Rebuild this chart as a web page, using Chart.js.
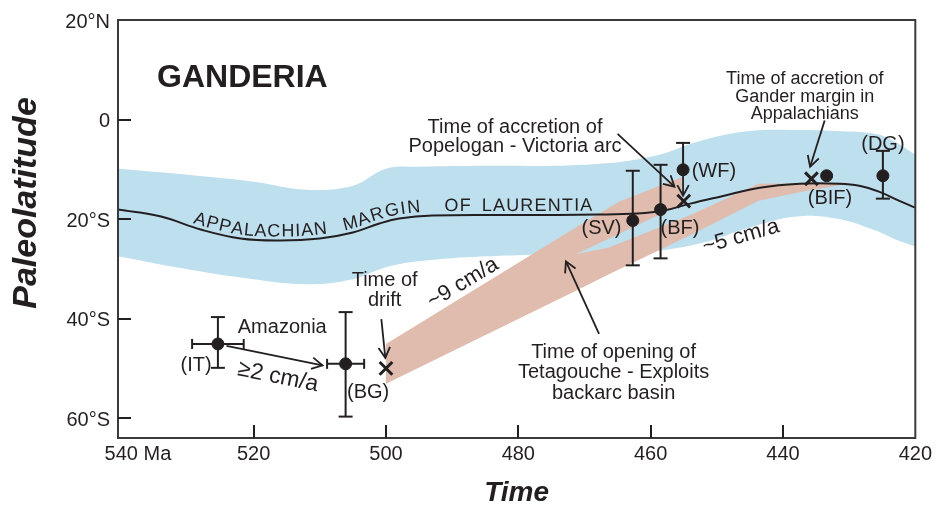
<!DOCTYPE html>
<html>
<head>
<meta charset="utf-8">
<script src="https://cdn.jsdelivr.net/npm/chart.js@4.4.1/dist/chart.umd.min.js"></script>
<style>
  html, body { margin: 0; padding: 0; background: #fff; }
</style>
</head>
<body>
<canvas id="chart" width="936" height="507"></canvas>
<script>
// ── Data (age in Ma, paleolatitude in degrees, south negative) ──
const timeTicks = [540, 520, 500, 480, 460, 440, 420];
const latTicks  = [20, 0, -20, -40, -60];

// blue band: Appalachian margin of Laurentia (uncertainty envelope)
const bandTimes = [540.5, 530, 520, 512, 505, 500, 495, 485, 470, 460, 452, 445, 438, 432, 426, 423, 420];
const bandNorth = [-9.9, -11.1, -12.5, -14.1, -13.3, -9.9, -9.5, -9.3, -9.1, -7.5, -4.1, -2.3, -2.1, -2.3, -2.9, -4.5, -7.1];
const bandSouth = [-27.5, -30.1, -32.1, -33.1, -32.1, -29.7, -28.5, -27.5, -26.9, -26.5, -24.7, -21.7, -19.5, -19.9, -22.3, -24.1, -25.5];

// black curve: Appalachian margin reference path
const marginTimes = [540.5, 534, 528, 522, 516, 510, 505, 501, 498, 493, 480, 468, 462, 458, 454, 449.5, 443.5, 437.5, 431.5, 428.5, 425.5, 422.5, 420];
const marginLat   = [-18.1, -19.5, -22.1, -23.9, -24.3, -23.9, -22.7, -20.9, -19.9, -19.3, -19.2, -19.1, -18.9, -18.3, -16.9, -15.5, -13.7, -12.9, -12.9, -13.3, -14.5, -16.3, -17.7];

// pink bands: Ganderia drift paths
const fastTimes = [500, 472.3, 464.8, 455.3];          // ~9 cm/a
const fastNorth = [-45.1, -22.5, -16.5, -11.6];
const fastSouth = [-53.1, -27.7, -23.0, -17.0];
const slowTimes = [500, 471.6, 466.3, 453.8, 443.7, 436, 430.1];   // ~5 cm/a
const slowNorth = [-45.1, -27.1, -25.7, -19.1, -12.9, -12.8, -12.7];
const slowSouth = [-53.1, -34.6, -31.1, -23.1, -16.3, -14.2, -12.9];

// paleomagnetic sites
const siteNames = ['IT', 'BG', 'SV', 'BF', 'WF', 'BIF', 'DG'];
const siteAge   = [525.4, 506.1, 462.7, 458.5, 455.1, 433.4, 424.9];
const siteLat   = [-45.1, -49.1, -20.3, -18.1, -10.1, -11.3, -11.3];
const errNorth  = [5.4, 10.4, 10.0, 9.0, 5.4, 0, 5.0];
const errSouth  = [4.8, 10.6, 9.0, 9.8, 0, 0, 4.6];
const errAge    = [3.9, 2.8, 0, 0, 0, 0, 0];

// "x" events: time of drift, accretion of Popelogan-Victoria arc, accretion of Gander margin
const eventAge = [500.0, 455.0, 435.7];
const eventLat = [-50.0, -16.4, -11.9];

// text along the black curve
const marginWords = ['APPALACHIAN', 'MARGIN', 'OF', 'LAURENTIA'];
const marginStart = [529.4, 506.3, 491.5, 485.6];

// ── Style ─────────────────────────────────────────────────────
const INK  = '#231f20';
const BLUE = '#bedfee';
const PINK = '#dfbcad';
const FONT = '"Liberation Sans", Arial, Helvetica, sans-serif';

const notes = [
  { text: ['GANDERIA'], t: 534.6, lat: 6.5, size: 32, weight: 'bold', align: 'left' },
  { text: ['Time of accretion of', 'Popelogan - Victoria arc'], t: 480.5, lat: -2.7, size: 20, step: 19 },
  { text: ['Time of accretion of', 'Gander margin in', 'Appalachians'], t: 436.7, lat: 7.1, size: 18, step: 17.5 },
  { text: ['(DG)'], t: 424.9, lat: -6.1, size: 20 },
  { text: ['(WF)'], t: 453.8, lat: -11.5, size: 20, align: 'left' },
  { text: ['(BF)'], t: 458.5, lat: -23.1, size: 20, align: 'left' },
  { text: ['(SV)'], t: 464.4, lat: -23.1, size: 20, align: 'right' },
  { text: ['(BIF)'], t: 432.9, lat: -16.9, size: 20 },
  { text: ['(BG)'], t: 502.7, lat: -55.9, size: 20 },
  { text: ['(IT)'], t: 528.7, lat: -50.5, size: 20 },
  { text: ['Amazonia'], t: 522.4, lat: -42.9, size: 20, align: 'left' },
  { text: ['Time of', 'drift'], t: 500.2, lat: -33.5, size: 20, step: 20 },
  { text: ['Time of opening of', 'Tetagouche - Exploits', 'backarc basin'], t: 465.6, lat: -47.9, size: 20, step: 20.5 },
  { text: ['\u22652 cm/a'], t: 516.5, lat: -53.0, size: 23, rot: 11.5 },
  { text: ['~9 cm/a'], t: 487.9, lat: -33.9, size: 22, rot: -31 },
  { text: ['~5 cm/a'], t: 446.1, lat: -24.7, size: 22, rot: -16 },
];

const pointers = [
  { from: [524.1, -45.5], to: [509.6, -49.4] },
  { from: [500.7, -40.1], to: [500.1, -47.9] },
  { from: [467.8, -43.1], to: [472.8, -28.5] },
  { from: [465.0, -2.9],  to: [456.4, -13.5] },
  { from: [433.7, -0.2],  to: [435.9, -9.5] },
  { from: [455.1, -10.1], to: [455.1, -15.3] },
];

const zip = (xs, ys) => xs.map((x, i) => ({ x, y: ys[i] }));
const LINE_IDX = 6;

// ── Helpers ───────────────────────────────────────────────────
function arrow(ctx, x1, y1, x2, y2, head) {
  ctx.beginPath(); ctx.moveTo(x1, y1); ctx.lineTo(x2, y2); ctx.stroke();
  const a = Math.atan2(y2 - y1, x2 - x1);
  ctx.beginPath();
  ctx.moveTo(x2 - head * Math.cos(a - 0.5), y2 - head * Math.sin(a - 0.5));
  ctx.lineTo(x2, y2);
  ctx.lineTo(x2 - head * Math.cos(a + 0.5), y2 - head * Math.sin(a + 0.5));
  ctx.stroke();
}

function sampleCurve(points) {
  const out = [];
  for (let i = 0; i < points.length - 1; i++) {
    const a = points[i], b = points[i + 1];
    const c1x = a.cp2x ?? a.x, c1y = a.cp2y ?? a.y;
    const c2x = b.cp1x ?? b.x, c2y = b.cp1y ?? b.y;
    for (let k = 0; k < 24; k++) {
      const s = k / 24, u = 1 - s;
      out.push({
        x: u * u * u * a.x + 3 * u * u * s * c1x + 3 * u * s * s * c2x + s * s * s * b.x,
        y: u * u * u * a.y + 3 * u * u * s * c1y + 3 * u * s * s * c2y + s * s * s * b.y,
      });
    }
  }
  const last = points[points.length - 1];
  out.push({ x: last.x, y: last.y });
  let len = 0;
  out.forEach((p, i) => {
    if (i) len += Math.hypot(p.x - out[i - 1].x, p.y - out[i - 1].y);
    p.s = len;
  });
  return out;
}

function pointAt(path, s) {
  let i = 1;
  while (i < path.length - 1 && path[i].s < s) i++;
  const a = path[i - 1], b = path[i];
  const f = (s - a.s) / ((b.s - a.s) || 1);
  return { x: a.x + (b.x - a.x) * f, y: a.y + (b.y - a.y) * f };
}

// ── Plugins ───────────────────────────────────────────────────
const errorBars = {
  id: 'errorBars',
  afterDatasetDraw(chart, args) {
    if (args.index !== LINE_IDX) return;
    const { ctx, scales: { x, y } } = chart;
    ctx.save();
    ctx.strokeStyle = INK;
    ctx.lineWidth = 2;
    const seg = (x1, y1, x2, y2) => { ctx.beginPath(); ctx.moveTo(x1, y1); ctx.lineTo(x2, y2); ctx.stroke(); };
    siteAge.forEach((t, i) => {
      const px = x.getPixelForValue(t), py = y.getPixelForValue(siteLat[i]);
      if (errNorth[i]) {
        const yy = y.getPixelForValue(siteLat[i] + errNorth[i]);
        seg(px, py, px, yy); seg(px - 7, yy, px + 7, yy);
      }
      if (errSouth[i]) {
        const yy = y.getPixelForValue(siteLat[i] - errSouth[i]);
        seg(px, py, px, yy); seg(px - 7, yy, px + 7, yy);
      }
      if (errAge[i]) {
        const xl = x.getPixelForValue(t + errAge[i]), xr = x.getPixelForValue(t - errAge[i]);
        seg(xl, py, xr, py); seg(xl, py - 5, xl, py + 5); seg(xr, py - 5, xr, py + 5);
      }
    });
    ctx.restore();
  },
};

const decorations = {
  id: 'decorations',
  afterDatasetsDraw(chart) {
    const { ctx, chartArea: area, scales: { x, y } } = chart;
    ctx.save();

    // frame and inward ticks
    ctx.strokeStyle = '#3a3a3a';
    ctx.lineWidth = 2;
    ctx.strokeRect(area.left, area.top, area.right - area.left, area.bottom - area.top);
    ctx.strokeStyle = INK;
    timeTicks.forEach(t => {
      if (t === 540 || t === 420) return;
      const px = Math.round(x.getPixelForValue(t));
      ctx.beginPath(); ctx.moveTo(px, area.bottom); ctx.lineTo(px, area.bottom - 13); ctx.stroke();
    });
    latTicks.forEach(v => {
      if (v === 20) return;
      const py = Math.round(y.getPixelForValue(v));
      ctx.beginPath(); ctx.moveTo(area.left, py); ctx.lineTo(area.left + 13, py); ctx.stroke();
    });

    // " Ma" after the 540 label
    ctx.fillStyle = INK;
    ctx.font = `20px ${FONT}`;
    ctx.textBaseline = 'middle';
    ctx.textAlign = 'left';
    const w540 = ctx.measureText('540').width;
    ctx.fillText(' Ma', x.getPixelForValue(540) + w540 / 2, area.bottom + 4 + 12);

    // y-axis title
    ctx.save();
    ctx.font = `italic bold 34px ${FONT}`;
    ctx.textAlign = 'center';
    ctx.translate(27, 203);
    ctx.rotate(-Math.PI / 2);
    ctx.fillText('Paleolatitude', 0, 0);
    ctx.restore();

    // text along the margin curve
    const path = sampleCurve(chart.getDatasetMeta(LINE_IDX).data);
    ctx.font = `18px ${FONT}`;
    ctx.textAlign = 'center';
    ctx.textBaseline = 'alphabetic';
    marginWords.forEach((word, wi) => {
      const px0 = x.getPixelForValue(marginStart[wi]);
      let s = (path.find(p => p.x >= px0) || path[0]).s;
      for (const ch of word) {
        const w = ctx.measureText(ch).width;
        const mid = s + w / 2;
        const p = pointAt(path, mid);
        const p1 = pointAt(path, mid - 5), p2 = pointAt(path, mid + 5);
        ctx.save();
        ctx.translate(p.x, p.y);
        ctx.rotate(Math.atan2(p2.y - p1.y, p2.x - p1.x));
        ctx.fillText(ch, 0, -4);
        ctx.restore();
        s += w + 1.2;
      }
    });

    // notes
    notes.forEach(n => {
      ctx.save();
      ctx.font = `${n.weight || 'normal'} ${n.size}px ${FONT}`;
      ctx.textAlign = n.align || 'center';
      ctx.textBaseline = 'alphabetic';
      ctx.translate(x.getPixelForValue(n.t), y.getPixelForValue(n.lat));
      if (n.rot) ctx.rotate(n.rot * Math.PI / 180);
      n.text.forEach((line, i) => ctx.fillText(line, 0, i * (n.step || 0)));
      ctx.restore();
    });

    // arrows
    ctx.lineWidth = 1.8;
    ctx.strokeStyle = INK;
    pointers.forEach(a => {
      arrow(ctx,
        x.getPixelForValue(a.from[0]), y.getPixelForValue(a.from[1]),
        x.getPixelForValue(a.to[0]), y.getPixelForValue(a.to[1]), 12);
    });

    ctx.restore();
  },
};

// ── Chart ─────────────────────────────────────────────────────
const edge = { type: 'line', borderColor: 'rgba(0,0,0,0)', borderWidth: 0, pointRadius: 0 };

new Chart(document.getElementById('chart'), {
  type: 'scatter',
  data: {
    datasets: [
      { ...edge, label: 'band N', data: zip(bandTimes, bandNorth), fill: '+1', backgroundColor: BLUE, tension: 0.4, order: 10 },
      { ...edge, label: 'band S', data: zip(bandTimes, bandSouth), fill: false, tension: 0.4, order: 10 },
      { ...edge, label: '~9 cm/a N', data: zip(fastTimes, fastNorth), fill: '+1', backgroundColor: PINK, order: 9 },
      { ...edge, label: '~9 cm/a S', data: zip(fastTimes, fastSouth), fill: false, order: 9 },
      { ...edge, label: '~5 cm/a N', data: zip(slowTimes, slowNorth), fill: '+1', backgroundColor: PINK, order: 9 },
      { ...edge, label: '~5 cm/a S', data: zip(slowTimes, slowSouth), fill: false, order: 9 },
      { type: 'line', label: 'Appalachian margin', data: zip(marginTimes, marginLat), borderColor: INK, borderWidth: 2, pointRadius: 0, fill: false, tension: 0.4, order: 8 },
      { label: 'sites', data: zip(siteAge, siteLat), backgroundColor: INK, borderColor: INK, pointRadius: 6, order: 2 },
      { label: 'events', data: zip(eventAge, eventLat), pointStyle: 'crossRot', borderColor: INK, borderWidth: 3, pointRadius: 9, order: 1 },
    ],
  },
  options: {
    responsive: false,
    animation: false,
    events: [],
    layout: { padding: { top: 18, right: 18, left: 0, bottom: 0 } },
    plugins: { legend: { display: false }, tooltip: { enabled: false } },
    scales: {
      x: {
        type: 'linear',
        reverse: true,
        min: 420,
        max: 540.5,
        afterBuildTicks: s => { s.ticks = timeTicks.map(v => ({ value: v })); },
        afterFit: s => { s.height = 69; },
        grid: { display: false, drawTicks: false },
        border: { display: false },
        ticks: { color: INK, font: { family: FONT, size: 20 }, padding: 4, maxRotation: 0, autoSkip: false, callback: v => String(v) },
        title: { display: true, text: 'Time', color: INK, padding: 0, font: { family: FONT, size: 28, weight: 'bold', style: 'italic', lineHeight: 1 } },
      },
      y: {
        type: 'linear',
        min: -64,
        max: 20,
        afterBuildTicks: s => { s.ticks = latTicks.map(v => ({ value: v })); },
        afterFit: s => { s.width = 118; },
        grid: { display: false, drawTicks: false },
        border: { display: false },
        ticks: {
          color: INK, font: { family: FONT, size: 20 }, padding: 8, labelOffset: 2,
          callback: v => v > 0 ? v + '°N' : v < 0 ? (-v) + '°S' : '0',
        },
      },
    },
  },
  plugins: [errorBars, decorations],
});
</script>
</body>
</html>
